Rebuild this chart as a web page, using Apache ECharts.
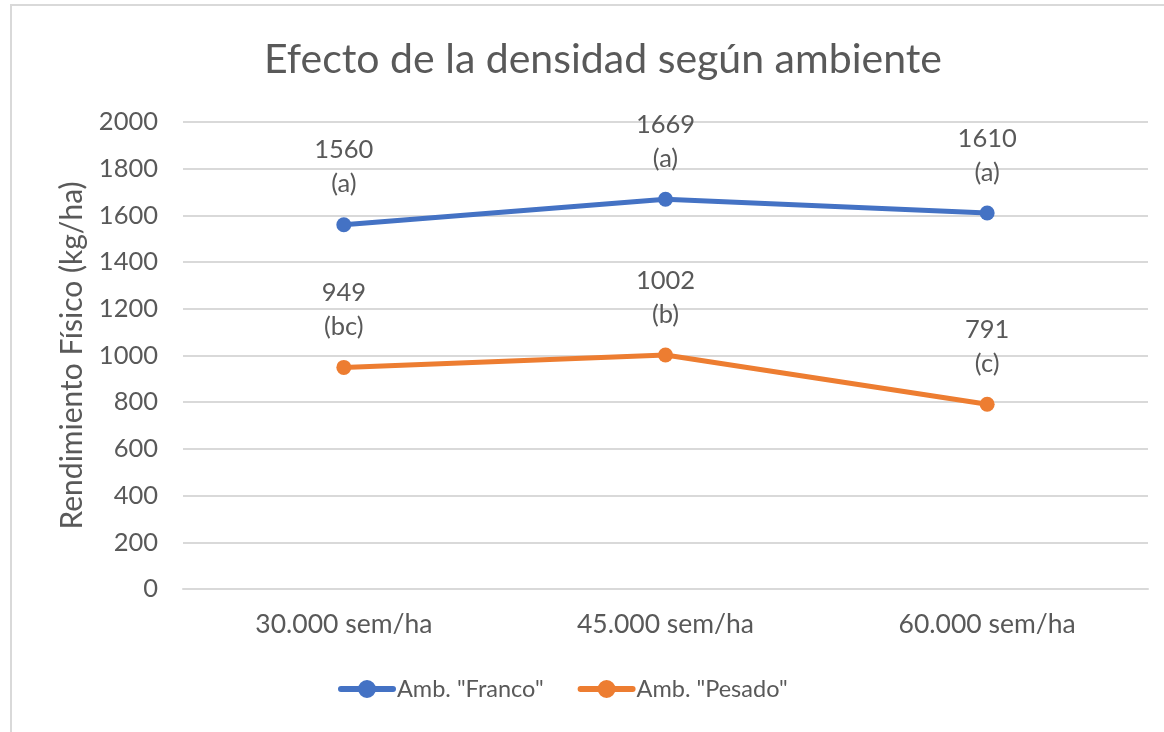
<!DOCTYPE html>
<html>
<head>
<meta charset="utf-8">
<script src="https://cdn.jsdelivr.net/npm/echarts@6/dist/echarts.min.js"></script>
<style>
  html, body { margin: 0; padding: 0; background: #fff; }
  #frame {
    position: absolute; left: 10px; top: 4px; width: 1170px; height: 740px;
    border-left: 2px solid #d9d9d9; border-top: 2px solid #d9d9d9;
  }
  #chart { position: absolute; left: 0; top: 0; width: 1164px; height: 732px; }
</style>
</head>
<body>
<div id="frame"></div>
<div id="chart"></div>
<script>
// datos
const categories = ['30.000 sem/ha', '45.000 sem/ha', '60.000 sem/ha'];
const franco = [1560, 1669, 1610];
const pesado = [949, 1002, 791];
const francoLetters = ['(a)', '(a)', '(a)'];
const pesadoLetters = ['(bc)', '(b)', '(c)'];
const seriesNames = ['Amb. "Franco"', 'Amb. "Pesado"'];

const FONT = 'Lato';
const TXT = '#595959';
// icono de leyenda: barra redondeada + circulo
const LEGEND_ICON = 'path://M3,6H55A3,3 0 0 1 55,12H3A3,3 0 0 1 3,6Z M20,9A9,9 0 1 1 38,9A9,9 0 1 1 20,9Z';

function makeLabel(letters) {
  return {
    show: true,
    position: 'top',
    distance: 16,
    fontFamily: FONT,
    fontSize: 25.5,
    color: TXT,
    lineHeight: 34,
    formatter: p => p.value + '\n' + letters[p.dataIndex]
  };
}

let myChart = echarts.init(document.getElementById('chart'), null, {renderer: 'canvas'});
let option = {
  animation: false,
  textStyle: {fontFamily: FONT},
  title: {
    text: 'Efecto de la densidad según ambiente',
    left: 598,
    textAlign: 'center',
    top: 34,
    textStyle: {fontFamily: FONT, fontSize: 41, fontWeight: 'normal', color: TXT}
  },
  legend: {
    bottom: 26,
    left: 333,
    icon: LEGEND_ICON,
    itemWidth: 58,
    itemHeight: 18,
    itemGap: 34,
    textStyle: {fontFamily: FONT, fontSize: 23.5, color: TXT, padding: [0, 0, 0, -4]},
    data: seriesNames
  },
  grid: {left: 183, right: 16, top: 122, bottom: 143},
  xAxis: {
    type: 'category',
    data: categories,
    boundaryGap: true,
    axisLine: {lineStyle: {color: '#d9d9d9', width: 2}},
    axisTick: {show: false},
    axisLabel: {fontFamily: FONT, fontSize: 26.5, color: TXT, margin: 22}
  },
  yAxis: {
    type: 'value',
    min: 0,
    max: 2000,
    interval: 200,
    name: 'Rendimiento Físico (kg/ha)',
    nameLocation: 'middle',
    nameGap: 96,
    nameTextStyle: {fontFamily: FONT, fontSize: 30, color: TXT},
    axisLine: {show: false},
    axisTick: {show: false},
    axisLabel: {fontFamily: FONT, fontSize: 25.5, color: TXT, margin: 25, formatter: v => String(v)},
    splitLine: {lineStyle: {color: '#d9d9d9', width: 2}}
  },
  series: [
    {
      name: seriesNames[0],
      type: 'line',
      data: franco,
      color: '#4472C4',
      symbol: 'circle',
      symbolSize: 15,
      lineStyle: {width: 5},
      label: makeLabel(francoLetters)
    },
    {
      name: seriesNames[1],
      type: 'line',
      data: pesado,
      color: '#ED7D31',
      symbol: 'circle',
      symbolSize: 15,
      lineStyle: {width: 5},
      label: makeLabel(pesadoLetters)
    }
  ]
};
option && myChart.setOption(option);
</script>
</body>
</html>
